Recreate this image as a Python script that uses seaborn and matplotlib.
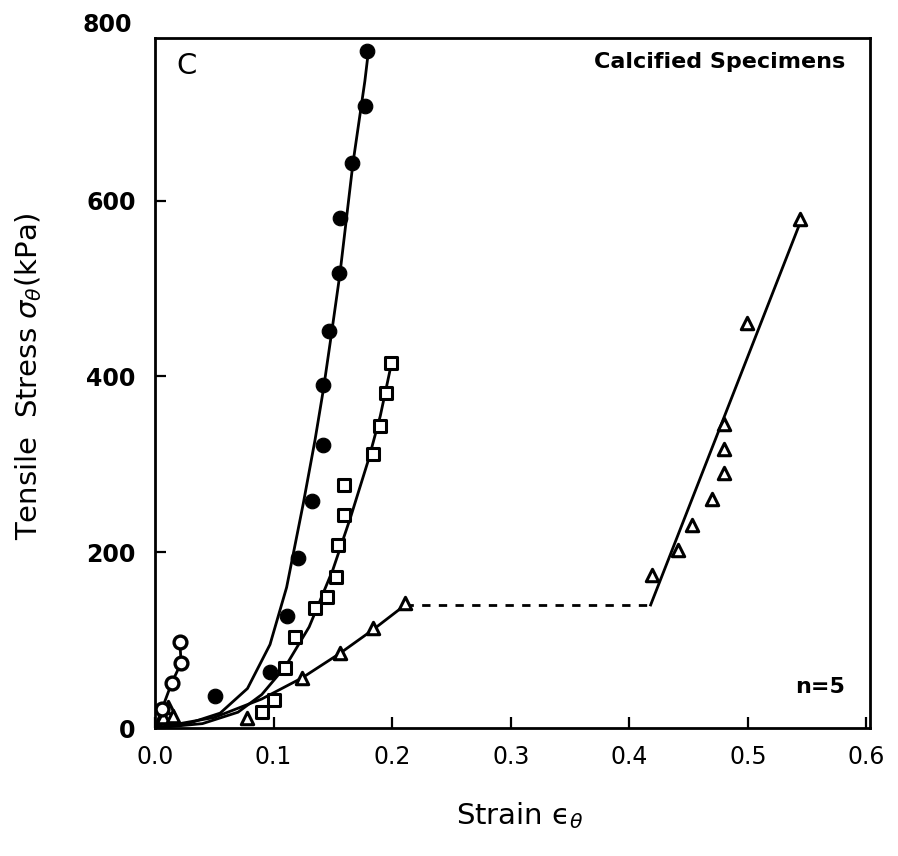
import numpy as np
import pandas as pd
import matplotlib
matplotlib.use("Agg")
import matplotlib.pyplot as plt
import seaborn as sns

# ---- data ----
# filled circles
circ_x = [0.0, 0.051, 0.097, 0.111, 0.121, 0.132, 0.142, 0.142, 0.147, 0.155, 0.156, 0.166, 0.177, 0.179]
circ_y = [0, 37, 64, 128, 194, 258, 322, 390, 452, 518, 580, 643, 708, 770]
circ_fit_x = [0, 0.03, 0.055, 0.078, 0.097, 0.111, 0.125, 0.135, 0.142, 0.149, 0.156, 0.167, 0.177, 0.180]
circ_fit_y = [0, 6, 17, 45, 95, 160, 255, 328, 385, 450, 517, 643, 736, 770]

# open squares
sq_x = [0.090, 0.100, 0.110, 0.118, 0.135, 0.145, 0.153, 0.154, 0.159, 0.159, 0.184, 0.190, 0.195, 0.199]
sq_y = [18, 32, 68, 103, 136, 149, 172, 208, 242, 276, 312, 344, 381, 415]
sq_fit_x = [0, 0.04, 0.07, 0.09, 0.11, 0.13, 0.15, 0.165, 0.18, 0.19, 0.199]
sq_fit_y = [0, 5, 18, 38, 70, 115, 180, 240, 305, 355, 412]

# open triangles (low branch, then high branch)
tri_x = [0.007, 0.011, 0.015, 0.078, 0.124, 0.156, 0.184, 0.211,
         0.419, 0.441, 0.453, 0.470, 0.480, 0.480, 0.480, 0.4996, 0.544]
tri_y = [12, 24, 14, 11, 57, 85, 114, 142,
         174, 202, 231, 261, 290, 318, 346, 461, 579]
tri_fit_x = [0, 0.05, 0.09, 0.124, 0.156, 0.184, 0.211]
tri_fit_y = [0, 12, 33, 57, 85, 112, 140]
gap_x = [0.211, 0.418]
gap_y = [140, 140]
tri_hi_x = [0.418, 0.545]
tri_hi_y = [140, 578]

# open circles (stiff specimen near origin)
oc_x = [0.0, 0.006, 0.014, 0.022, 0.021]
oc_y = [0, 22, 51, 74, 98]

plt.rcParams["font.family"] = ["DejaVu Sans"]

fig = plt.figure(figsize=(8.98, 8.56), dpi=100)
ax = fig.add_axes([0.1726, 0.1495, 0.7962, 0.8061])

line_kw = dict(color="black", linewidth=2.0, sort=False, estimator=None, ax=ax, legend=False)

sns.lineplot(x=circ_fit_x, y=circ_fit_y, **line_kw)
sns.lineplot(x=sq_fit_x, y=sq_fit_y, **line_kw)
sns.lineplot(x=tri_fit_x, y=tri_fit_y, **line_kw)
sns.lineplot(x=tri_hi_x, y=tri_hi_y, **line_kw)
sns.lineplot(x=gap_x, y=gap_y, linestyle=(0, (3, 3)), **line_kw)
sns.lineplot(x=oc_x, y=oc_y, **line_kw)

sns.scatterplot(x=circ_x, y=circ_y, marker="o", s=110, color="black",
                edgecolor="black", ax=ax, zorder=5)
sns.scatterplot(x=sq_x, y=sq_y, marker="s", s=65, facecolor="white",
                edgecolor="black", linewidth=2.2, ax=ax, zorder=5)
sns.scatterplot(x=tri_x, y=tri_y, marker="^", s=80, facecolor="white",
                edgecolor="black", linewidth=2.2, ax=ax, zorder=5)
sns.scatterplot(x=oc_x[1:], y=oc_y[1:], marker="o", s=85, facecolor="white",
                edgecolor="black", linewidth=2.4, ax=ax, zorder=5)

ax.set_xlim(0, 0.603)
ax.set_ylim(0, 785)
ax.set_xticks([0.0, 0.1, 0.2, 0.3, 0.4, 0.5, 0.6])
ax.set_xticklabels(["0.0", "0.1", "0.2", "0.3", "0.4", "0.5", "0.6"])
ax.set_yticks([0, 200, 400, 600])
ax.tick_params(direction="in", length=8, width=1.6, labelsize=17, top=False, right=False)
ax.tick_params(axis="y", pad=14)
ax.tick_params(axis="x", pad=12)
for lab in ax.get_yticklabels():
    lab.set_fontweight("bold")
ax.text(-0.032, 800, "800", transform=ax.get_yaxis_transform(), ha="right", va="center",
        fontsize=17, fontweight="bold", clip_on=False)

for sp in ax.spines.values():
    sp.set_linewidth(2.0)

ax.set_xlabel(r"Strain ϵ$_\theta$", fontsize=21)
ax.set_ylabel(r"Tensile  Stress $\sigma_\theta$(kPa)", fontsize=21)
ax.xaxis.set_label_coords(0.51, -0.105)
ax.yaxis.set_label_coords(-0.155, 0.51)

ax.text(0.03, 0.98, "C", transform=ax.transAxes, ha="left", va="top", fontsize=21)
ax.text(0.965, 0.98, "Calcified Specimens", transform=ax.transAxes, ha="right", va="top",
        fontsize=16, fontweight="bold")
ax.text(0.965, 0.06, "n=5", transform=ax.transAxes, ha="right", va="center",
        fontsize=16, fontweight="bold")

fig.savefig("out.png", dpi=100)
